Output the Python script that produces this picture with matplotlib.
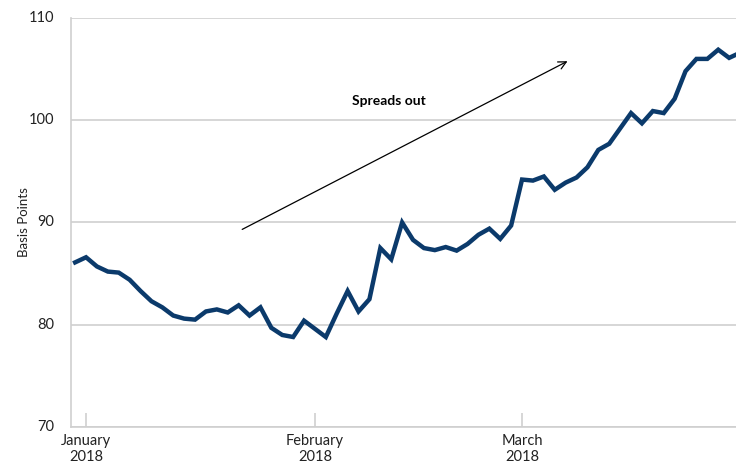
import matplotlib.pyplot as plt

# business-day series, Dec 29 2017 .. Mar 29 2018 (equal spacing, category-style axis)
spread = [86.1, 86.6, 85.7, 85.2, 85.1, 84.4, 83.3, 82.3, 81.7, 80.9,
          80.6, 80.5, 81.3, 81.5, 81.2, 81.9, 80.9, 81.7, 79.7, 79.0,
          78.8, 80.4, 79.6, 78.8, 81.1, 83.3, 81.3, 82.5, 87.5, 86.4,
          90.0, 88.3, 87.5, 87.3, 87.6, 87.25, 87.9, 88.8, 89.4, 88.4,
          89.7, 94.2, 94.1, 94.5, 93.2, 93.9, 94.4, 95.4, 97.1, 97.7,
          99.2, 100.7, 99.7, 100.9, 100.7, 102.1, 104.8, 106.0, 106.0, 106.9,
          106.1, 106.6]
month_idx = [1, 22, 41]
month_labels = ['January\n2018', 'February\n2018', 'March\n2018']
yticks = [70, 80, 90, 100, 110]

plt.rcParams['font.family'] = ['Lato', 'DejaVu Sans']

fig = plt.figure(figsize=(7.36, 4.65), dpi=100)
ax = fig.add_axes([71/736, 38/465, 665/736, 409/465])

x = list(range(len(spread)))
ax.plot(x, spread, color='#0b3a6b', lw=3.2, solid_joinstyle='miter', zorder=3)

ax.set_xlim(-0.38, 60.63)
ax.set_ylim(70, 110)
ax.set_yticks(yticks)
ax.yaxis.grid(True, color='#cfcfcf', lw=1.2)
ax.set_axisbelow(True)

ax.set_xticks(month_idx)
ax.set_xticklabels(month_labels, fontsize=10.5, color='#222222', linespacing=1.2)
ax.tick_params(axis='x', direction='in', length=10, color='#cfcfcf', width=1.2, pad=5)
ax.tick_params(axis='y', length=0, labelsize=10.5, labelcolor='#222222', pad=12)
for lbl in ax.get_yticklabels():
    lbl.set_verticalalignment('center')

for s in ['top', 'right']:
    ax.spines[s].set_visible(False)
for s in ['left', 'bottom']:
    ax.spines[s].set_color('#cfcfcf')
    ax.spines[s].set_linewidth(1.2)

ax.set_ylabel('Basis Points', fontsize=9.5, color='#222222')
ax.yaxis.set_label_coords(-0.062, 0.5)

ax.annotate('', xy=(45.4, 105.9), xytext=(15.1, 89.2),
            arrowprops=dict(arrowstyle='->', color='black', lw=0.9,
                            mutation_scale=14))
ax.text(28.8, 101.9, 'Spreads out', fontsize=10, fontweight='bold',
        ha='center', va='center', color='black')

fig.savefig('out.png', dpi=100)
